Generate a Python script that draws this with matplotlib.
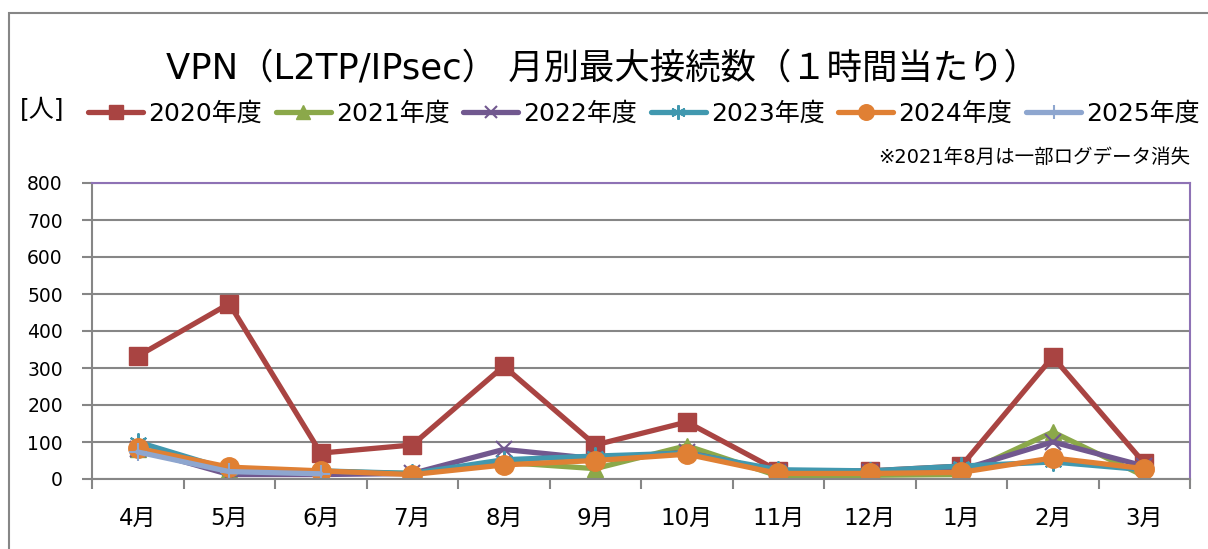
import matplotlib
matplotlib.use('Agg')
import matplotlib.pyplot as plt
from matplotlib.patches import Rectangle
import numpy as np

plt.rcParams['font.family'] = ['DejaVu Sans', 'Noto Sans CJK JP']

# Data
months = ['4月', '5月', '6月', '7月', '8月', '9月', '10月', '11月', '12月', '1月', '2月', '3月']
y2020 = [332, 474, 70, 92, 305, 92, 154, 22, 22, 35, 330, 43]
y2021 = [80, 25, 20, 15, 45, 28, 90, 8, 10, 12, 127, 8]
y2022 = [82, 12, 12, 15, 80, 55, 72, 20, 20, 25, 100, 35]
y2023 = [100, 25, 22, 15, 52, 62, 70, 25, 22, 35, 46, 25]
y2024 = [83, 32, 22, 12, 38, 50, 67, 15, 15, 18, 57, 28]
y2025 = [73, 20, 14]
yticks = [0, 100, 200, 300, 400, 500, 600, 700, 800]

series = [
    ('2020年度', y2020, '#A94442', 's', 13),
    ('2021年度', y2021, '#8BA84A', '^', 12),
    ('2022年度', y2022, '#71588F', 'x', 11),
    ('2023年度', y2023, '#4198AF', (6, 2, 0), 13),
    ('2024年度', y2024, '#E08034', 'o', 14),
    ('2025年度', y2025, '#8EA6CF', '+', 13),
]

fig = plt.figure(figsize=(12.08, 5.49), dpi=100)
ax = fig.add_axes([92 / 1208, 1 - 479 / 549, (1190 - 92) / 1208, (479 - 183) / 549])

x = np.arange(len(months))
for label, vals, color, marker, ms in series:
    xs = x[:len(vals)]
    mew = 1.5 if marker in ('x', '+', (6, 2, 0)) else 1
    ax.plot(xs, vals, color=color, lw=3.8, marker=marker, markersize=ms,
            markeredgewidth=mew, markeredgecolor=color, label=label,
            solid_joinstyle='round', solid_capstyle='round')

ax.set_xlim(-0.5, len(months) - 0.5)
ax.set_ylim(0, 800)
ax.set_yticks(yticks)
ax.tick_params(axis='y', labelsize=13.5, length=7, width=1.5, color='#868686', pad=14)
ax.set_xticks(x)
ax.set_xticklabels(months)
ax.set_xticks(np.arange(-0.5, len(months)), minor=True)
ax.tick_params(axis='x', which='major', length=0, labelsize=16.5, pad=20)
ax.tick_params(axis='x', which='minor', length=7, width=1.5, color='#868686')

ax.grid(axis='y', color='#868686', lw=1.5)
ax.set_axisbelow(True)
for side in ('left', 'bottom'):
    ax.spines[side].set_color('#868686')
    ax.spines[side].set_linewidth(1.5)
for side in ('top', 'right'):
    ax.spines[side].set_color('#8E72B5')
    ax.spines[side].set_linewidth(1.5)

fig.text(602 / 1208, 1 - 68 / 549, 'VPN（L2TP/IPsec） 月別最大接続数（１時間当たり）',
         ha='center', va='center', fontsize=25.5)
fig.text(20 / 1208, 1 - 110 / 549, '[人]', ha='left', va='center', fontsize=18)
fig.legend(loc='center', bbox_to_anchor=(644 / 1208, 1 - 114 / 549), ncol=6, frameon=False,
           fontsize=18, handlelength=2.2, handletextpad=0.2, columnspacing=0.55,
           markerscale=0.8, borderpad=0, borderaxespad=0)
fig.text(1190 / 1208, 1 - 157 / 549, '※2021年8月は一部ログデータ消失',
         ha='right', va='center', fontsize=14)

fig.patches.append(Rectangle((9 / 1208, -0.1), 1.2, 1.1 - 13 / 549,
                             transform=fig.transFigure, fill=False,
                             edgecolor='#868686', lw=1.5))

fig.savefig('out.png', dpi=100)
